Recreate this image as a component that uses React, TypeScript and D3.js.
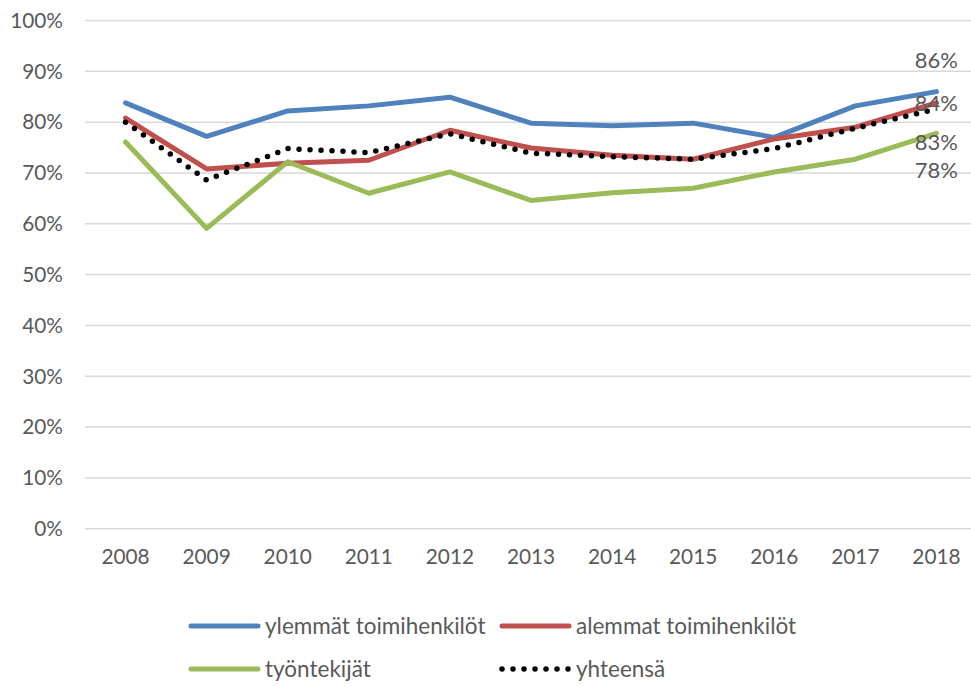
import React from 'react';
import * as d3 from 'd3';

const years = ['2008', '2009', '2010', '2011', '2012', '2013', '2014', '2015', '2016', '2017', '2018'];
const ylemmat = [83.8, 77.2, 82.2, 83.2, 84.9, 79.8, 79.3, 79.8, 77.0, 83.2, 86.0];
const alemmat = [80.8, 70.8, 71.9, 72.5, 78.4, 74.9, 73.5, 72.7, 76.7, 79.0, 83.8];
const tyontekijat = [76.1, 59.1, 72.2, 66.0, 70.2, 64.6, 66.1, 67.0, 70.2, 72.7, 77.8];
const yhteensa = [80.0, 68.6, 74.8, 74.0, 77.7, 73.9, 73.2, 72.7, 74.8, 78.8, 82.6];
const endLabels = ['86%', '84%', '83%', '78%'];
const yTicks = [0, 10, 20, 30, 40, 50, 60, 70, 80, 90, 100];

const series = [
  { name: 'ylemmät toimihenkilöt', values: ylemmat, color: '#4f81bd', dotted: false },
  { name: 'alemmat toimihenkilöt', values: alemmat, color: '#c0504d', dotted: false },
  { name: 'työntekijät', values: tyontekijat, color: '#9bbb59', dotted: false },
  { name: 'yhteensä', values: yhteensa, color: '#000000', dotted: true },
];

const font = 'Lato, "Open Sans", sans-serif';
const textColor = '#595959';

const App = () => {
  const width = 971;
  const height = 686;
  const left = 85;
  const right = 977;
  const top = 20.5;
  const bottom = 528.7;

  const x = d3.scaleBand().domain(years).range([left, right]);
  const y = d3.scaleLinear().domain([0, 100]).range([bottom, top]);
  const cx = (yr) => x(yr) + x.bandwidth() / 2;

  const line = d3.line()
    .x((d, i) => cx(years[i]))
    .y((d) => y(d));

  const labelYs = [60, 103, 142, 170];

  return (
    <div style={{ position: 'absolute', left: 0, top: 0 }}>
      <svg width={width} height={height} style={{ display: 'block', background: '#fff' }}>
        {yTicks.map((t) => (
          <g key={t}>
            <line x1={left} x2={right} y1={y(t)} y2={y(t)} stroke="#d9d9d9" strokeWidth={1.5} />
            <text x={63} y={y(t)} dy="0.35em" textAnchor="end" fontFamily={font} fontSize={20.8} fill={textColor}>
              {t}%
            </text>
          </g>
        ))}
        {years.map((yr) => (
          <text key={yr} x={cx(yr)} y={557} dy="0.35em" textAnchor="middle" fontFamily={font} fontSize={20.8} fill={textColor}>
            {yr}
          </text>
        ))}
        {series.map((s) => (
          <path
            key={s.name}
            d={line(s.values)}
            fill="none"
            stroke={s.color}
            strokeWidth={s.dotted ? 5.5 : 5}
            strokeLinecap="round"
            strokeLinejoin="round"
            strokeDasharray={s.dotted ? '0 11' : null}
          />
        ))}
        {endLabels.map((l, i) => (
          <text key={l} x={958} y={labelYs[i]} dy="0.35em" textAnchor="end" fontFamily={font} fontSize={22} fill={textColor}>
            {l}
          </text>
        ))}
        {series.map((s, i) => {
          const lx = i % 2 === 0 ? 191 : 502;
          const ly = i < 2 ? 626 : 669;
          return (
            <g key={s.name}>
              <line
                x1={lx}
                x2={lx + 67}
                y1={ly}
                y2={ly}
                stroke={s.color}
                strokeWidth={s.dotted ? 5.5 : 5}
                strokeLinecap="round"
                strokeDasharray={s.dotted ? '0 11' : null}
              />
              <text x={lx + 74} y={ly} dy="0.35em" fontFamily={font} fontSize={22.5} fill={textColor}>
                {s.name}
              </text>
            </g>
          );
        })}
      </svg>
    </div>
  );
};

export default App;
